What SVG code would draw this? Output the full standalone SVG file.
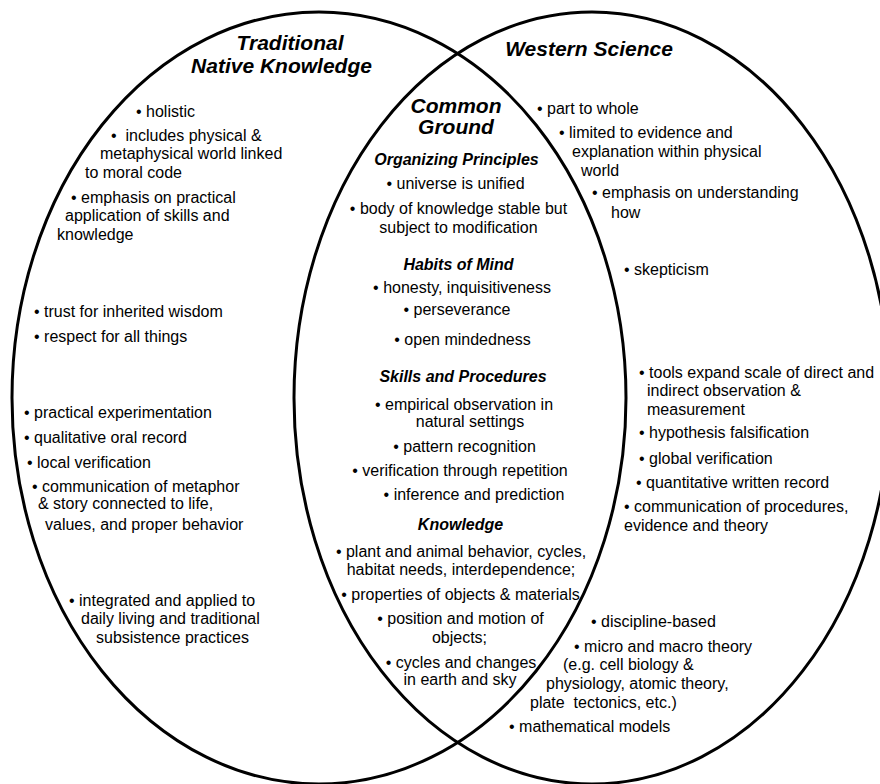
<svg xmlns="http://www.w3.org/2000/svg" width="880" height="784" viewBox="0 0 880 784">
<style>
.t{font-family:"Liberation Sans",Arial,sans-serif;font-size:16px;fill:#000}
.m{text-anchor:middle}
.h{font-family:"Liberation Sans",Arial,sans-serif;font-size:16px;font-weight:bold;font-style:italic;fill:#000;text-anchor:middle}
.T{font-family:"Liberation Sans",Arial,sans-serif;font-size:21px;font-weight:bold;font-style:italic;fill:#000;text-anchor:middle}
.e{fill:none;stroke:#000;stroke-width:3}
</style>
<rect width="880" height="784" fill="#fff"/>
<g id="circles">
<ellipse id="left-ellipse" class="e" cx="319" cy="398" rx="307" ry="386"/>
<ellipse id="right-ellipse" class="e" cx="592" cy="398" rx="298" ry="386"/>
</g>
<g id="traditional">
<text class="T" x="290" y="50">Traditional</text>
<text class="T" x="281.5" y="73">Native Knowledge</text>
<text class="t" x="136" y="117">• holistic</text>
<text class="t" x="111" y="141" xml:space="preserve">•  includes physical &amp;</text>
<text class="t" x="100" y="159">metaphysical world linked</text>
<text class="t" x="85" y="178">to moral code</text>
<text class="t" x="71" y="203">• emphasis on practical</text>
<text class="t" x="65" y="221">application of skills and</text>
<text class="t" x="57" y="240">knowledge</text>
<text class="t" x="34" y="317">• trust for inherited wisdom</text>
<text class="t" x="34" y="342">• respect for all things</text>
<text class="t" x="24" y="418">• practical experimentation</text>
<text class="t" x="24" y="443">• qualitative oral record</text>
<text class="t" x="27" y="468">• local verification</text>
<text class="t" x="32" y="492">• communication of metaphor</text>
<text class="t" x="38" y="509">&amp; story connected to life,</text>
<text class="t" x="45" y="530">values, and proper behavior</text>
<text class="t" x="69" y="606">• integrated and applied to</text>
<text class="t" x="81" y="624">daily living and traditional</text>
<text class="t" x="96" y="643">subsistence practices</text>
</g>
<g id="western">
<text class="T" x="589" y="56">Western Science</text>
<text class="t" x="537" y="114">• part to whole</text>
<text class="t" x="559" y="138">• limited to evidence and</text>
<text class="t" x="572" y="157">explanation within physical</text>
<text class="t" x="581" y="176">world</text>
<text class="t" x="592" y="198">• emphasis on understanding</text>
<text class="t" x="611" y="218">how</text>
<text class="t" x="624" y="275">• skepticism</text>
<text class="t" x="639" y="378">• tools expand scale of direct and</text>
<text class="t" x="647" y="396">indirect observation &amp;</text>
<text class="t" x="647" y="415">measurement</text>
<text class="t" x="639" y="438">• hypothesis falsification</text>
<text class="t" x="639" y="464">• global verification</text>
<text class="t" x="636" y="488">• quantitative written record</text>
<text class="t" x="624" y="512">• communication of procedures,</text>
<text class="t" x="624" y="531">evidence and theory</text>
<text class="t" x="591" y="627">• discipline-based</text>
<text class="t" x="574" y="652">• micro and macro theory</text>
<text class="t" x="563" y="670">(e.g. cell biology &amp;</text>
<text class="t" x="546" y="689">physiology, atomic theory,</text>
<text class="t" x="530" y="708" xml:space="preserve">plate  tectonics, etc.)</text>
<text class="t" x="509" y="732">• mathematical models</text>
</g>
<g id="common">
<text class="T" x="456" y="113">Common</text>
<text class="T" x="456" y="134">Ground</text>
<text class="h" x="456.5" y="165">Organizing Principles</text>
<text class="t m" x="455.5" y="189">• universe is unified</text>
<text class="t m" x="458.5" y="214">• body of knowledge stable but</text>
<text class="t m" x="458.5" y="233">subject to modification</text>
<text class="h" x="458.5" y="270">Habits of Mind</text>
<text class="t m" x="462" y="293">• honesty, inquisitiveness</text>
<text class="t m" x="457" y="315">• perseverance</text>
<text class="t m" x="462.5" y="345">• open mindedness</text>
<text class="h" x="463" y="382">Skills and Procedures</text>
<text class="t m" x="464" y="410">• empirical observation in</text>
<text class="t m" x="470" y="427">natural settings</text>
<text class="t m" x="464.5" y="452">• pattern recognition</text>
<text class="t m" x="460" y="476">• verification through repetition</text>
<text class="t m" x="474" y="500">• inference and prediction</text>
<text class="h" x="460.5" y="530">Knowledge</text>
<text class="t m" x="461" y="557">• plant and animal behavior, cycles,</text>
<text class="t m" x="461" y="575">habitat needs, interdependence;</text>
<text class="t m" x="460.5" y="600">• properties of objects &amp; materials</text>
<text class="t m" x="460.5" y="624">• position and motion of</text>
<text class="t m" x="459.5" y="643">objects;</text>
<text class="t m" x="461" y="668">• cycles and changes</text>
<text class="t m" x="460" y="685">in earth and sky</text>
</g>
</svg>
